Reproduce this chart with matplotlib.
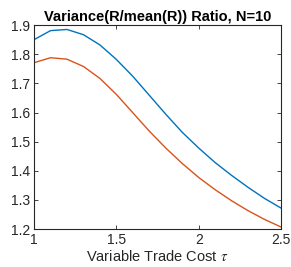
import numpy as np
import matplotlib
matplotlib.use("Agg")
import matplotlib.pyplot as plt

# ---------------------------------------------
# Data
# ---------------------------------------------

tau = [1.0, 1.1, 1.2, 1.3, 1.4, 1.5, 1.6, 1.7, 1.8, 1.9, 2.0, 2.1, 2.2, 2.3, 2.4, 2.5]
ratio_blue = [1.850, 1.881, 1.885, 1.867, 1.832, 1.782, 1.724, 1.659,
              1.594, 1.532, 1.478, 1.428, 1.384, 1.343, 1.305, 1.272]
ratio_red = [1.771, 1.788, 1.783, 1.758, 1.717, 1.662, 1.599, 1.536,
             1.478, 1.425, 1.377, 1.335, 1.297, 1.263, 1.233, 1.207]

xticks = [1, 1.5, 2, 2.5]
xticklabels = ["1", "1.5", "2", "2.5"]
yticks = [1.2, 1.3, 1.4, 1.5, 1.6, 1.7, 1.8, 1.9]

plt.rcParams["font.family"] = ["Liberation Sans", "DejaVu Sans"]
plt.rcParams["mathtext.fontset"] = "stix"

fig = plt.figure(figsize=(2.91, 2.67), dpi=100)
ax = fig.add_axes([0.117, 0.142, 0.849, 0.764])

ax.plot(tau, ratio_blue, color="#0072BD", lw=1.0)
ax.plot(tau, ratio_red, color="#D95319", lw=1.0)

ax.set_xlim(1, 2.5)
ax.set_ylim(1.2, 1.9)
ax.set_xticks(xticks)
ax.set_xticklabels(xticklabels)
ax.set_yticks(yticks)
ax.set_yticklabels(["%.1f" % v for v in yticks])

ax.tick_params(direction="in", length=3, width=0.6, labelsize=10,
               colors="#262626", top=True, right=True, pad=3)
for s in ax.spines.values():
    s.set_color("#262626")
    s.set_linewidth(0.8)

ax.set_title("Variance(R/mean(R)) Ratio, N=10", fontsize=10.5,
             fontweight="bold", pad=3)
ax.set_xlabel("Variable Trade Cost $\\tau$", fontsize=10.5, color="#262626",
              labelpad=1)

fig.savefig("out.png", dpi=100)
